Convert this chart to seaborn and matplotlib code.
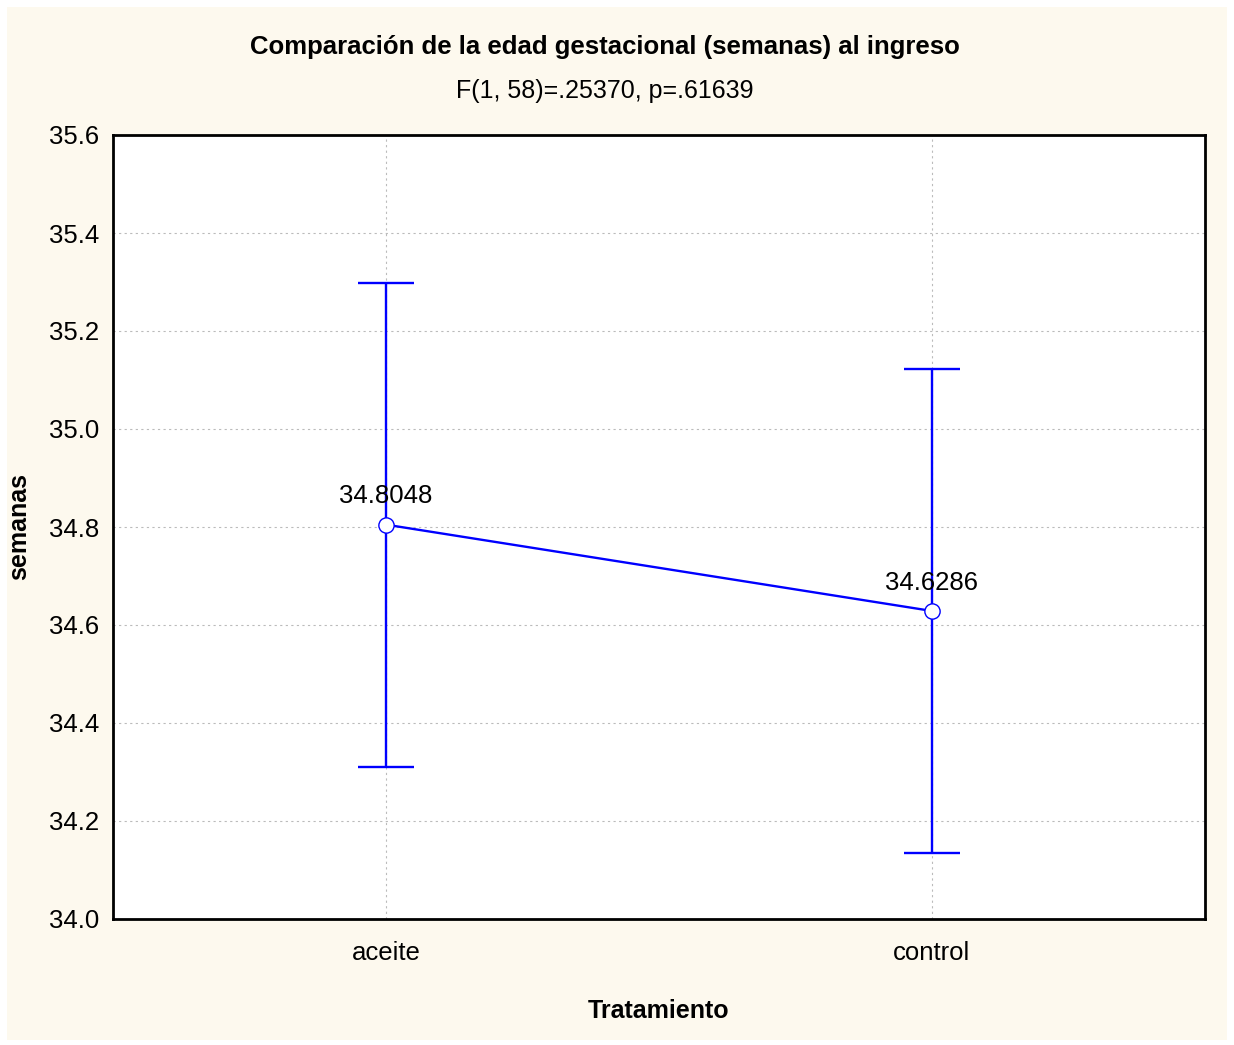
import pandas as pd
import matplotlib.pyplot as plt
import seaborn as sns

# group means and confidence limits
grupos = ['aceite', 'control']
medias = [34.8048, 34.6286]
lim_inf = [34.310, 34.135]
lim_sup = [35.298, 35.122]

df = pd.DataFrame({'Tratamiento': grupos, 'semanas': medias})

sns.set_style('white')
plt.rcParams['font.family'] = ['Liberation Sans', 'DejaVu Sans']
plt.rcParams['text.color'] = 'black'
plt.rcParams['axes.labelcolor'] = 'black'
plt.rcParams['xtick.color'] = 'black'
plt.rcParams['ytick.color'] = 'black'

fig = plt.figure(figsize=(12.34, 10.45), dpi=100, facecolor='white')
# cream panel with a thin white margin
fig.patches.append(plt.Rectangle((7 / 1234, 5 / 1045), 1220 / 1234, 1033 / 1045,
                                 transform=fig.transFigure, facecolor='#fdf9ee',
                                 edgecolor='none', zorder=-10))
ax = fig.add_axes([113 / 1234, 126 / 1045, 1092 / 1234, 784 / 1045])
ax.set_zorder(1)
ax.set_facecolor('white')

err_lo = [m - l for m, l in zip(medias, lim_inf)]
err_hi = [u - m for m, u in zip(medias, lim_sup)]
ax.errorbar(range(len(grupos)), medias, yerr=[err_lo, err_hi], fmt='none',
            ecolor='blue', elinewidth=1.7, capsize=20, capthick=1.7, zorder=3)
sns.pointplot(data=df, x='Tratamiento', y='semanas', color='blue', errorbar=None,
              markers='o', linewidth=1.7, markersize=11,
              markerfacecolor='white', markeredgecolor='blue', markeredgewidth=1.0,
              ax=ax, zorder=4)
for line in ax.lines:
    line.set_zorder(4)
    line.set_markerfacecolor('white')

for i, m in enumerate(medias):
    ax.text(i, m + 0.033, f'{m:.4f}', ha='center', va='bottom', fontsize=18.5, zorder=5)

ax.set_xlim(-0.5, 1.5)
ax.set_ylim(34.0, 35.6)
ax.set_yticks([34.0 + 0.2 * k for k in range(9)])
ax.set_yticklabels([f'{34.0 + 0.2 * k:.1f}' for k in range(9)])
ax.grid(True, color='#bbbbbb', linestyle=(0, (2, 3)), linewidth=0.8)
ax.set_axisbelow(True)
ax.tick_params(labelsize=18.5, length=0)
ax.tick_params(axis='y', pad=10)
ax.tick_params(axis='x', pad=16)
for s in ax.spines.values():
    s.set_color('black')
    s.set_linewidth(2)

ax.set_xlabel('Tratamiento', fontsize=18, fontweight='bold', labelpad=24)
ax.set_ylabel('semanas', fontsize=18, fontweight='bold', labelpad=13)

fig.text(0.49, 0.955, 'Comparación de la edad gestacional (semanas) al ingreso',
         ha='center', va='center', fontsize=18.5, fontweight='bold')
fig.text(0.49, 0.913, 'F(1, 58)=.25370, p=.61639', ha='center', va='center', fontsize=18)

fig.savefig('out.png', dpi=100, facecolor='white')
